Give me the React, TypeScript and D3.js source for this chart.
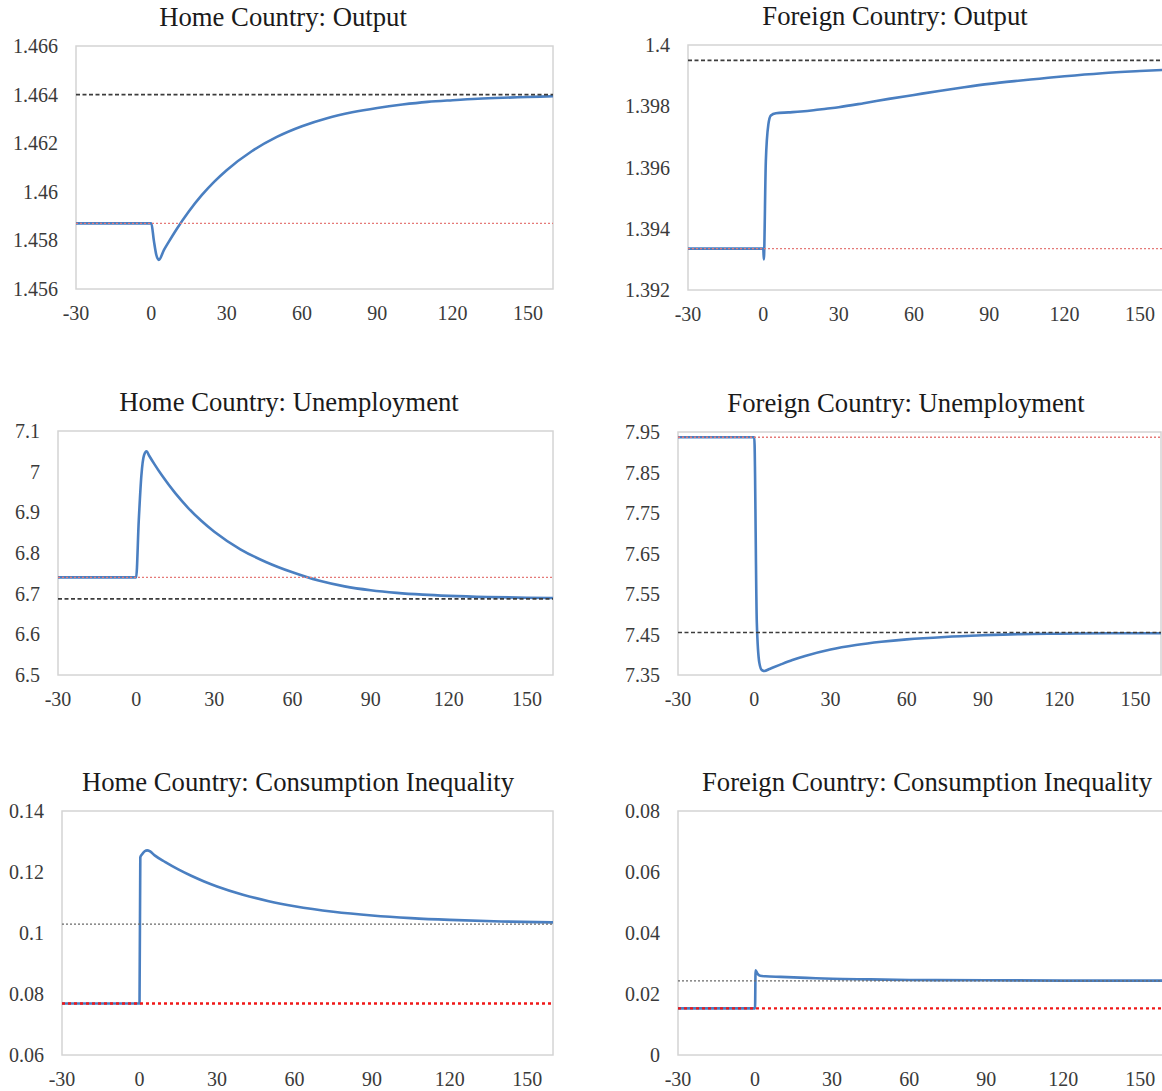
import * as d3 from 'd3';

const xTicks = [-30, 0, 30, 60, 90, 120, 150];
const xDomain: [number, number] = [-30, 160];

// Home Country: Output
const homeOutput: [number, number][] = [
  [-30, 1.4587], [0, 1.4587], [1, 1.458], [2, 1.4574], [3, 1.4572], [5, 1.4576], [7, 1.45795],
  [10, 1.45845], [15, 1.4592], [20, 1.45985], [25, 1.46041], [30, 1.46089], [40, 1.46167],
  [50, 1.46226], [60, 1.4627], [70, 1.46303], [80, 1.46327], [90, 1.46345], [100, 1.46359],
  [110, 1.4637], [120, 1.46377], [130, 1.46383], [140, 1.46387], [150, 1.4639], [160, 1.46393],
];
const homeOutputTicks = [1.456, 1.458, 1.46, 1.462, 1.464, 1.466];

// Foreign Country: Output
const foreignOutput: [number, number][] = [
  [-30, 1.39335], [0, 1.39335], [0.2, 1.393], [1, 1.3962], [2, 1.3974], [3, 1.3977],
  [5, 1.39777], [10, 1.3978], [15, 1.39783], [20, 1.39787], [25, 1.39792], [30, 1.39797],
  [40, 1.3981], [50, 1.39824], [60, 1.39837], [70, 1.3985], [80, 1.39862], [90, 1.39873],
  [100, 1.39882], [110, 1.3989], [120, 1.39898], [135, 1.39908], [150, 1.39915], [160, 1.39919],
];
const foreignOutputTicks = [1.392, 1.394, 1.396, 1.398, 1.4];

// Home Country: Unemployment
const homeUnemp: [number, number][] = [
  [-30, 6.74], [0, 6.74], [1, 6.88], [2, 6.99], [3, 7.04], [4, 7.05], [5, 7.0392], [7, 7.0185],
  [10, 6.9897], [15, 6.9471], [20, 6.9106], [25, 6.8792], [30, 6.8523], [40, 6.8092],
  [50, 6.7774], [60, 6.7525], [70, 6.7322], [80, 6.718], [90, 6.7085], [100, 6.702],
  [110, 6.6976], [120, 6.6946], [135, 6.6917], [150, 6.6901], [160, 6.6894],
];
const homeUnempTicks = [6.5, 6.6, 6.7, 6.8, 6.9, 7, 7.1];

// Foreign Country: Unemployment
const foreignUnemp: [number, number][] = [
  [-30, 7.937], [0, 7.937], [1, 7.48], [2, 7.38], [3, 7.362], [4, 7.36], [6, 7.365],
  [10, 7.375], [15, 7.387], [20, 7.397], [30, 7.413], [40, 7.424], [50, 7.432],
  [60, 7.438], [75, 7.444], [90, 7.448], [105, 7.451], [120, 7.452], [140, 7.453], [160, 7.453],
];
const foreignUnempTicks = [7.35, 7.45, 7.55, 7.65, 7.75, 7.85, 7.95];

// Home Country: Consumption Inequality
const homeIneq: [number, number][] = [
  [-30, 0.0769], [0, 0.0769], [0.3, 0.1248], [1, 0.1258], [2, 0.1268], [3, 0.1271],
  [4, 0.1268], [6, 0.12536], [10, 0.12323], [15, 0.12085], [20, 0.11876], [25, 0.1169],
  [30, 0.11527], [40, 0.11256], [50, 0.11044], [60, 0.1088], [75, 0.10698], [90, 0.10574],
  [105, 0.10488], [120, 0.10429], [140, 0.10378], [160, 0.10348],
];
const homeIneqTicks = [0.06, 0.08, 0.1, 0.12, 0.14];

// Foreign Country: Consumption Inequality
const foreignIneq: [number, number][] = [
  [-30, 0.0153], [0, 0.0153], [0.2, 0.0278], [1, 0.0266], [2, 0.026], [4, 0.0258],
  [10, 0.0256], [20, 0.0253], [30, 0.025], [45, 0.0248], [60, 0.0246], [90, 0.0245],
  [120, 0.0244], [160, 0.0244],
];
const foreignIneqTicks = [0, 0.02, 0.04, 0.06, 0.08];

// old / new steady states
const oldLevels = [1.4587, 1.39335, 6.74, 7.937, 0.0769, 0.0153];
const newLevels = [1.464, 1.3995, 6.687, 7.455, 0.1029, 0.0243];

const titles = [
  'Home Country: Output', 'Foreign Country: Output',
  'Home Country: Unemployment', 'Foreign Country: Unemployment',
  'Home Country: Consumption Inequality', 'Foreign Country: Consumption Inequality',
];

const FONT = '"Liberation Serif", "Times New Roman", serif';
const fmt = d3.format('~g');

type PanelProps = {
  title: string;
  data: [number, number][];
  ticks: number[];
  oldLevel: number;
  newLevel: number;
  box: { l: number; r: number; t: number; b: number };
  titleX: number;
  bold: boolean;
};

function Panel({ title, data, ticks, oldLevel, newLevel, box, titleX, bold }: PanelProps) {
  const x = d3.scaleLinear().domain(xDomain).range([box.l, box.r]);
  const y = d3.scaleLinear().domain(d3.extent(ticks) as [number, number]).range([box.b, box.t]);
  const line = d3.line<[number, number]>()
    .x(d => x(d[0]))
    .y(d => y(d[1]))
    .curve(d3.curveMonotoneX);

  return (
    <g>
      <text x={titleX} y={box.t - 20} textAnchor="middle" fontSize={26.7} fill="#1a1a1a" fontFamily={FONT}>
        {title}
      </text>
      <rect x={box.l} y={box.t} width={box.r - box.l} height={box.b - box.t} fill="none" stroke="#d4d4d4" strokeWidth={1.5} />
      {ticks.map(t => (
        <text key={t} x={box.l - 18} y={y(t)} dy="0.35em" textAnchor="end" fontSize={20} fill="#3a3a3a" fontFamily={FONT}>
          {fmt(t)}
        </text>
      ))}
      {xTicks.map(t => (
        <text key={t} x={x(t)} y={box.b + 31} textAnchor="middle" fontSize={20} fill="#3a3a3a" fontFamily={FONT}>
          {t}
        </text>
      ))}
      <path d={line(data) ?? ''} fill="none" stroke="#4a7fc1" strokeWidth={2.6} />
      <line
        x1={x(xDomain[0])} x2={x(xDomain[1])} y1={y(newLevel)} y2={y(newLevel)}
        stroke={bold ? '#6a6a6a' : '#3c3c3c'}
        strokeWidth={bold ? 1.1 : 1.7}
        strokeDasharray={bold ? '2 2' : '4 2.5'}
      />
      <line
        x1={x(xDomain[0])} x2={x(xDomain[1])} y1={y(oldLevel)} y2={y(oldLevel)}
        stroke={bold ? '#f01818' : '#e57a78'}
        strokeWidth={bold ? 2.4 : 1.3}
        strokeDasharray={bold ? '3 3' : '2 2'}
      />
    </g>
  );
}

const boxes = [
  { l: 76, r: 553, t: 46, b: 289 },
  { l: 688, r: 1165, t: 45, b: 290 },
  { l: 58, r: 553, t: 431, b: 675 },
  { l: 678, r: 1161, t: 432, b: 675 },
  { l: 62, r: 553, t: 811, b: 1055 },
  { l: 678, r: 1166, t: 811, b: 1055 },
];
const titleXs = [283, 895, 289, 906, 298, 927];

export default function App() {
  const series = [homeOutput, foreignOutput, homeUnemp, foreignUnemp, homeIneq, foreignIneq];
  const tickSets = [homeOutputTicks, foreignOutputTicks, homeUnempTicks, foreignUnempTicks, homeIneqTicks, foreignIneqTicks];
  return (
    <svg width={1162} height={1091} style={{ position: 'absolute', left: 0, top: 0, background: '#fff' }}>
      <rect width={1162} height={1091} fill="#fff" />
      {series.map((d, i) => (
        <Panel
          key={i}
          title={titles[i]}
          data={d}
          ticks={tickSets[i]}
          oldLevel={oldLevels[i]}
          newLevel={newLevels[i]}
          box={boxes[i]}
          titleX={titleXs[i]}
          bold={i >= 4}
        />
      ))}
    </svg>
  );
}
